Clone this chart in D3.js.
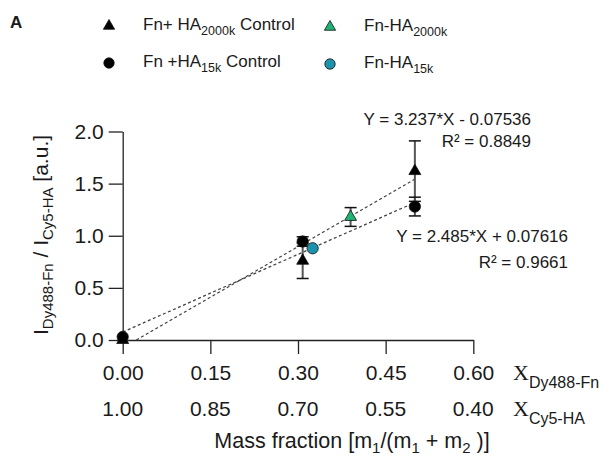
<!DOCTYPE html>
<html>
<head>
<meta charset="utf-8">
<script src="https://cdn.jsdelivr.net/npm/d3@7"></script>
<style>
  body { margin: 0; background: #fff; }
  svg { display: block; font-family: "Liberation Sans", Arial, sans-serif; }
</style>
</head>
<body>
<div class="chart"></div>
<script>
// data
const triCtrlX = [0.0, 0.308, 0.50];
const triCtrlY = [0.00, 0.76, 1.62];
const triCtrlErr = [0.0, 0.17, 0.29];

const cirCtrlX = [0.0, 0.308, 0.50];
const cirCtrlY = [0.03, 0.945, 1.28];
const cirCtrlErr = [0.0, 0.045, 0.09];

const triSampleX = [0.39];
const triSampleY = [1.18];
const triSampleErr = [0.09];

const cirSampleX = [0.325];
const cirSampleY = [0.88];
const cirSampleErr = [0.0];

// linear fits (triangle control, circle control)
const fitSlope = [3.237, 2.485];
const fitIntercept = [-0.07536, 0.07616];
const fitXEnd = [0.5, 0.5];
const fitText = ["Y = 3.237*X - 0.07536", "Y = 2.485*X + 0.07616"];
const fitR2 = ["0.8849", "0.9661"];

const xTicks = [0, 0.15, 0.30, 0.45, 0.60];
const xTicks2 = ["1.00", "0.85", "0.70", "0.55", "0.40"];
const yTicks = [0, 0.5, 1.0, 1.5, 2.0];

const green = "#1fb374";
const blue = "#1c92ad";
const ink = "#1a1a1a";

const W = 605, H = 463;
const svg = d3.select(".chart").append("svg")
    .attr("width", W)
    .attr("height", H);

const xScale = d3.scaleLinear().domain([0, 0.6]).range([122.7, 473.3]);
const yScale = d3.scaleLinear().domain([0, 2]).range([340, 131.5]);

// axes
const xAxis = d3.axisBottom(xScale).tickValues(xTicks).tickSize(14)
    .tickSizeOuter(0).tickFormat(d3.format(".2f"));
const yAxis = d3.axisLeft(yScale).tickValues(yTicks).tickSize(14)
    .tickSizeOuter(0).tickFormat(d3.format(".1f"));

svg.append("g")
    .attr("transform", `translate(0,${yScale(0)})`)
    .call(xAxis)
    .call(g => g.selectAll("path, line").attr("stroke", "#222").attr("stroke-width", 1.3))
    .call(g => g.selectAll("text")
        .attr("font-size", 21)
        .attr("font-family", "Liberation Sans, Arial, sans-serif")
        .attr("fill", ink)
        .attr("dy", null)
        .attr("y", 40));

// second row of x tick labels
svg.append("g").selectAll("text")
    .data(xTicks2)
    .join("text")
    .attr("x", (d, i) => xScale(xTicks[i]))
    .attr("y", 415.5)
    .attr("text-anchor", "middle")
    .attr("font-size", 21)
    .attr("fill", ink)
    .text(d => d);

svg.append("g")
    .attr("transform", `translate(${xScale(0)},0)`)
    .call(yAxis)
    .call(g => g.selectAll("path, line").attr("stroke", "#222").attr("stroke-width", 1.3))
    .call(g => g.selectAll("text")
        .attr("font-size", 21)
        .attr("font-family", "Liberation Sans, Arial, sans-serif")
        .attr("fill", ink)
        .attr("x", -19));

// row labels X_Dy488-Fn / X_Cy5-HA
function rowLabel(y, sub) {
    const t = svg.append("text").attr("x", 513).attr("y", y).attr("fill", ink);
    t.append("tspan").attr("font-family", "Liberation Serif, Times New Roman, serif")
        .attr("font-size", 22).text("X");
    t.append("tspan").attr("font-size", 16).attr("dy", 8).text(sub);
}
rowLabel(380, "Dy488-Fn");
rowLabel(415.5, "Cy5-HA");

// x axis title
const xt = svg.append("text")
    .attr("x", 352).attr("y", 448)
    .attr("text-anchor", "middle")
    .attr("font-size", 21.5)
    .attr("fill", ink);
xt.append("tspan").text("Mass fraction [m");
xt.append("tspan").attr("font-size", 15).attr("dy", 5).text("1");
xt.append("tspan").attr("dy", -5).text("/(m");
xt.append("tspan").attr("font-size", 15).attr("dy", 5).text("1");
xt.append("tspan").attr("dy", -5).text(" + m");
xt.append("tspan").attr("font-size", 15).attr("dy", 5).text("2");
xt.append("tspan").attr("dy", -5).text(" )]");

// y axis title
const yt = svg.append("text")
    .attr("transform", "translate(48,235) rotate(-90)")
    .attr("text-anchor", "middle")
    .attr("font-size", 21)
    .attr("fill", ink);
yt.append("tspan").text("I");
yt.append("tspan").attr("font-size", 15).attr("dy", 5).text("Dy488-Fn");
yt.append("tspan").attr("dy", -5).text(" / I");
yt.append("tspan").attr("font-size", 15).attr("dy", 5).text("Cy5-HA");
yt.append("tspan").attr("dy", -5).text(" [a.u.]");

// fit lines
const fits = fitSlope.map((m, i) => {
    const x0 = Math.max(0, -fitIntercept[i] / m);
    return [[x0, m * x0 + fitIntercept[i]], [fitXEnd[i], m * fitXEnd[i] + fitIntercept[i]]];
});
const line = d3.line().x(d => xScale(d[0])).y(d => yScale(d[1]));
svg.append("g").selectAll("path")
    .data(fits)
    .join("path")
    .attr("d", line)
    .attr("fill", "none")
    .attr("stroke", "#444")
    .attr("stroke-width", 1.3)
    .attr("stroke-dasharray", "3,2.5");

// fit labels
const fitPos = [[531, 125, 146.5], [568, 241.5, 267.5]];
fitText.forEach((s, i) => {
    svg.append("text").attr("x", fitPos[i][0]).attr("y", fitPos[i][1])
        .attr("text-anchor", "end").attr("font-size", 17).attr("fill", ink).text(s);
    svg.append("text").attr("x", fitPos[i][0]).attr("y", fitPos[i][2])
        .attr("text-anchor", "end").attr("font-size", 17).attr("fill", ink)
        .text("R\u00b2 = " + fitR2[i]);
});

// series
const series = [
    {x: triCtrlX, y: triCtrlY, e: triCtrlErr, shape: d3.symbolTriangle, fill: "#000"},
    {x: cirCtrlX, y: cirCtrlY, e: cirCtrlErr, shape: d3.symbolCircle, fill: "#000"},
    {x: triSampleX, y: triSampleY, e: triSampleErr, shape: d3.symbolTriangle, fill: green},
    {x: cirSampleX, y: cirSampleY, e: cirSampleErr, shape: d3.symbolCircle, fill: blue}
];

series.forEach(s => {
    const pts = s.x.map((x, i) => ({x: x, y: s.y[i], e: s.e[i]})).filter(p => p.e > 0);
    const g = svg.append("g");
    g.selectAll("line.v").data(pts).join("line")
        .attr("x1", d => xScale(d.x)).attr("x2", d => xScale(d.x))
        .attr("y1", d => yScale(d.y + d.e)).attr("y2", d => yScale(d.y - d.e))
        .attr("stroke", "#555").attr("stroke-width", 2);
    [1, -1].forEach(sign => {
        g.selectAll("line.c" + sign).data(pts).join("line")
            .attr("x1", d => xScale(d.x) - 6).attr("x2", d => xScale(d.x) + 6)
            .attr("y1", d => yScale(d.y + sign * d.e)).attr("y2", d => yScale(d.y + sign * d.e))
            .attr("stroke", "#111").attr("stroke-width", 1.5);
    });
});

series.forEach(s => {
    const size = s.shape === d3.symbolTriangle ? 62 : 100;
    svg.append("g").selectAll("path")
        .data(s.x.map((x, i) => ({x: x, y: s.y[i]})))
        .join("path")
        .attr("d", d3.symbol(s.shape, size))
        .attr("transform", d => `translate(${xScale(d.x)},${yScale(d.y)})`)
        .attr("fill", s.fill)
        .attr("stroke", "#111")
        .attr("stroke-width", 0.8);
});

// panel letter
svg.append("text").attr("x", 10).attr("y", 28)
    .attr("font-size", 17).attr("font-weight", "bold").attr("fill", ink).text("A");

// legend
const legend = [
    {shape: d3.symbolTriangle, fill: "#000", x: 109, y: 26, text: ["Fn+ HA", "2000k", " Control"]},
    {shape: d3.symbolCircle, fill: "#000", x: 109, y: 63, text: ["Fn +HA", "15k", " Control"]},
    {shape: d3.symbolTriangle, fill: green, x: 330, y: 27, text: ["Fn-HA", "2000k", ""]},
    {shape: d3.symbolCircle, fill: blue, x: 330, y: 64, text: ["Fn-HA", "15k", ""]}
];
legend.forEach(l => {
    svg.append("path")
        .attr("d", d3.symbol(l.shape, l.shape === d3.symbolTriangle ? 55 : 85))
        .attr("transform", `translate(${l.x},${l.y})`)
        .attr("fill", l.fill)
        .attr("stroke", "#111")
        .attr("stroke-width", 0.8);
    const t = svg.append("text").attr("x", l.x + 34).attr("y", l.y + 4)
        .attr("font-size", 17).attr("fill", ink);
    t.append("tspan").text(l.text[0]);
    t.append("tspan").attr("font-size", 12.5).attr("dy", 5).text(l.text[1]);
    if (l.text[2]) t.append("tspan").attr("dy", -5).text(l.text[2]);
});
</script>
</body>
</html>
